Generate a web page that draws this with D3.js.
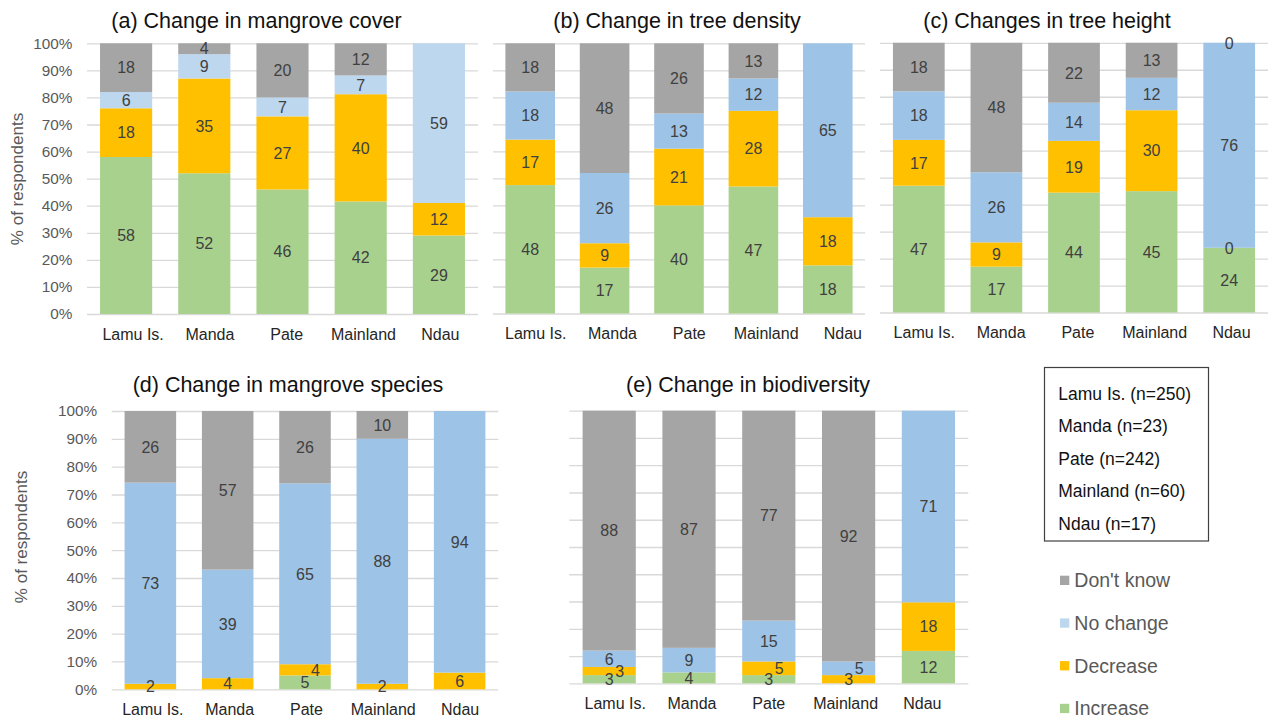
<!DOCTYPE html>
<html>
<head>
<meta charset="utf-8">
<script src="https://cdn.jsdelivr.net/npm/d3@7"></script>
<style>
  html, body { margin: 0; padding: 0; background: #fff; }
  svg { display: block; font-family: "Liberation Sans", Arial, sans-serif; }
</style>
</head>
<body>
<svg id="chart" width="1268" height="718"></svg>
<script>
// ---------------- DATA ----------------
const categories = ["Lamu Is.", "Manda", "Pate", "Mainland", "Ndau"];
const seriesNames = ["Increase", "Decrease", "No change", "Don't know"];
const sampleSizes = [250, 23, 242, 60, 17];
const yTickValues = [0, 10, 20, 30, 40, 50, 60, 70, 80, 90, 100];
const yTickLabels = ["0%", "10%", "20%", "30%", "40%", "50%", "60%", "70%", "80%", "90%", "100%"];
const yAxisTitle = "% of respondents";

const panelTitles = [
  "(a) Change in mangrove cover",
  "(b) Change in tree density",
  "(c) Changes in tree height",
  "(d) Change in mangrove species",
  "(e) Change in biodiversity"
];

// (a) mangrove cover
const coverIncrease   = [58, 52, 46, 42, 29];
const coverDecrease   = [18, 35, 27, 40, 12];
const coverNoChange   = [6, 9, 7, 7, 59];
const coverDontKnow   = [18, 4, 20, 12, 0];
// (b) tree density
const densityIncrease = [48, 17, 40, 47, 18];
const densityDecrease = [17, 9, 21, 28, 18];
const densityNoChange = [18, 26, 13, 12, 65];
const densityDontKnow = [18, 48, 26, 13, 0];
// (c) tree height
const heightIncrease  = [47, 17, 44, 45, 24];
const heightDecrease  = [17, 9, 19, 30, 0];
const heightNoChange  = [18, 26, 14, 12, 76];
const heightDontKnow  = [18, 48, 22, 13, 0];
// (d) mangrove species
const speciesIncrease = [0, 0, 5, 0, 0];
const speciesDecrease = [2, 4, 4, 2, 6];
const speciesNoChange = [73, 39, 65, 88, 94];
const speciesDontKnow = [26, 57, 26, 10, 0];
// (e) biodiversity
const biodivIncrease  = [3, 4, 3, 0, 12];
const biodivDecrease  = [3, 0, 5, 3, 18];
const biodivNoChange  = [6, 9, 15, 5, 71];
const biodivDontKnow  = [88, 87, 77, 92, 0];

// ---------------- STYLE / LAYOUT ----------------
const colors = {
  "Increase": "#A9D18E",
  "Decrease": "#FFC000",
  "No change": "#9DC3E6",
  "Don't know": "#A5A5A5"
};
const lightNoChange = "#BDD7EE";
const FONT = '"Liberation Sans", Arial, sans-serif';

const panels = [
  { title: panelTitles[0], series: [coverIncrease, coverDecrease, coverNoChange, coverDontKnow],
    x0: 87, x1: 478, yTop: 43.3, yBot: 314, titleX: 256.5, titleY: 28, yAxis: true, yTitleX: 17, yTitleY: 179,
    labelOff: 7, lightBlue: true, showZero: false },
  { title: panelTitles[1], series: [densityIncrease, densityDecrease, densityNoChange, densityDontKnow],
    x0: 493, x1: 865, yTop: 43.3, yBot: 313.5, titleX: 677, titleY: 28, yAxis: false,
    labelOff: 5.5, lightBlue: false, showZero: false },
  { title: panelTitles[2], series: [heightIncrease, heightDecrease, heightNoChange, heightDontKnow],
    x0: 880, x1: 1268, yTop: 42.8, yBot: 312.5, titleX: 1047, titleY: 28, yAxis: false,
    labelOff: 5.5, lightBlue: false, showZero: true },
  { title: panelTitles[3], series: [speciesIncrease, speciesDecrease, speciesNoChange, speciesDontKnow],
    x0: 111.7, x1: 498.3, yTop: 411, yBot: 689.3, titleX: 288, titleY: 392, yAxis: true, yTitleX: 21, yTitleY: 537,
    labelOff: 2.5, lightBlue: false, showZero: false },
  { title: panelTitles[4], series: [biodivIncrease, biodivDecrease, biodivNoChange, biodivDontKnow],
    x0: 569.3, x1: 968.3, yTop: 410.7, yBot: 683.3, titleX: 748, titleY: 392, yAxis: false,
    labelOff: 6, lightBlue: false, showZero: false }
];
const labelSpacing = 76.8;

const svg = d3.select("#chart");

panels.forEach(p => {
  const g = svg.append("g");
  const rows = categories.map((c, i) => {
    const r = { cat: c };
    seriesNames.forEach((s, k) => r[s] = p.series[k][i]);
    return r;
  });
  const stack = d3.stack().keys(seriesNames).offset(d3.stackOffsetExpand)(rows);

  const x = d3.scaleBand().domain(categories).range([p.x0, p.x1]).paddingInner(1/3).paddingOuter(1/6);
  const y = d3.scaleLinear().domain([0, 100]).range([p.yBot, p.yTop]);
  const yFrac = d3.scaleLinear().domain([0, 1]).range([p.yBot, p.yTop]);

  // gridlines + tick labels
  const axis = d3.axisLeft(y)
    .tickValues(yTickValues)
    .tickSize(-(p.x1 - p.x0))
    .tickPadding(14.7)
    .tickFormat((d, i) => p.yAxis ? yTickLabels[i] : "");
  const ag = g.append("g").attr("transform", `translate(${p.x0},0)`).call(axis);
  ag.select(".domain").remove();
  ag.selectAll(".tick line").attr("stroke", "#D9D9D9").attr("stroke-width", 1.3);
  ag.selectAll(".tick text").attr("fill", "#595959").style("font-size", "15.3px").style("font-family", FONT);

  // bars
  stack.forEach(layer => {
    const col = (layer.key === "No change" && p.lightBlue) ? lightNoChange : colors[layer.key];
    g.append("g").selectAll("rect").data(layer).join("rect")
      .attr("x", d => x(d.data.cat))
      .attr("width", x.bandwidth())
      .attr("y", d => yFrac(d[1]))
      .attr("height", d => Math.max(0, yFrac(d[0]) - yFrac(d[1])))
      .attr("fill", col);
  });

  // data labels
  const lg = g.append("g");
  categories.forEach((c, i) => {
    let prevY = null, prevShifted = false;
    stack.forEach((layer, k) => {
      const v = p.series[k][i];
      if (v === 0 && !p.showZero) return;
      const d = layer[i];
      const yc = yFrac((d[0] + d[1]) / 2);
      let shift = 0;
      if (prevY !== null && !prevShifted && Math.abs(prevY - yc) < 13) shift = 10.5;
      lg.append("text")
        .attr("x", x(c) + x.bandwidth() / 2 + shift)
        .attr("y", yc)
        .attr("dy", "0.36em")
        .attr("text-anchor", "middle")
        .attr("fill", "#404040")
        .style("font-size", "16px")
        .text(v);
      prevY = yc; prevShifted = shift > 0;
    });
  });

  // category labels
  const start = x(categories[0]) + x.bandwidth() / 2 + p.labelOff;
  const xl = d3.scalePoint().domain(categories).range([start, start + labelSpacing * (categories.length - 1)]);
  g.append("g").selectAll("text").data(categories).join("text")
    .attr("x", d => xl(d))
    .attr("y", p.yBot + 25.5)
    .attr("text-anchor", "middle")
    .attr("fill", "#262626")
    .style("font-size", "16px")
    .text(d => d);

  // title
  g.append("text")
    .attr("x", p.titleX).attr("y", p.titleY)
    .attr("text-anchor", "middle")
    .attr("fill", "#111")
    .style("font-size", "21.5px")
    .text(p.title);

  if (p.yAxis) {
    g.append("text")
      .attr("transform", `translate(${p.yTitleX},${p.yTitleY}) rotate(-90)`)
      .attr("text-anchor", "middle")
      .attr("dy", "0.35em")
      .attr("fill", "#595959")
      .style("font-size", "17px")
      .text(yAxisTitle);
  }
});

// sample-size box
const box = svg.append("g");
box.append("rect")
  .attr("x", 1044.5).attr("y", 367.5).attr("width", 164).attr("height", 173.5)
  .attr("fill", "#fff").attr("stroke", "#404040").attr("stroke-width", 1.2);
box.selectAll("text").data(categories).join("text")
  .attr("x", 1058.3)
  .attr("y", (d, i) => 399.5 + i * 32.5)
  .attr("fill", "#111")
  .style("font-size", "17.5px")
  .text((d, i) => `${d} (n=${sampleSizes[i]})`);

// series legend (top to bottom: Don't know, No change, Decrease, Increase)
const legendOrder = seriesNames.slice().reverse();
const leg = svg.append("g");
legendOrder.forEach((s, i) => {
  const cy = 580.3 + i * 42.7;
  leg.append("rect")
    .attr("x", 1060).attr("y", cy - 4.6).attr("width", 9.3).attr("height", 9.3)
    .attr("fill", s === "No change" ? lightNoChange : colors[s]);
  leg.append("text")
    .attr("x", 1074.3).attr("y", cy).attr("dy", "0.36em")
    .attr("fill", "#595959")
    .style("font-size", "19.5px")
    .text(s);
});
</script>
</body>
</html>
